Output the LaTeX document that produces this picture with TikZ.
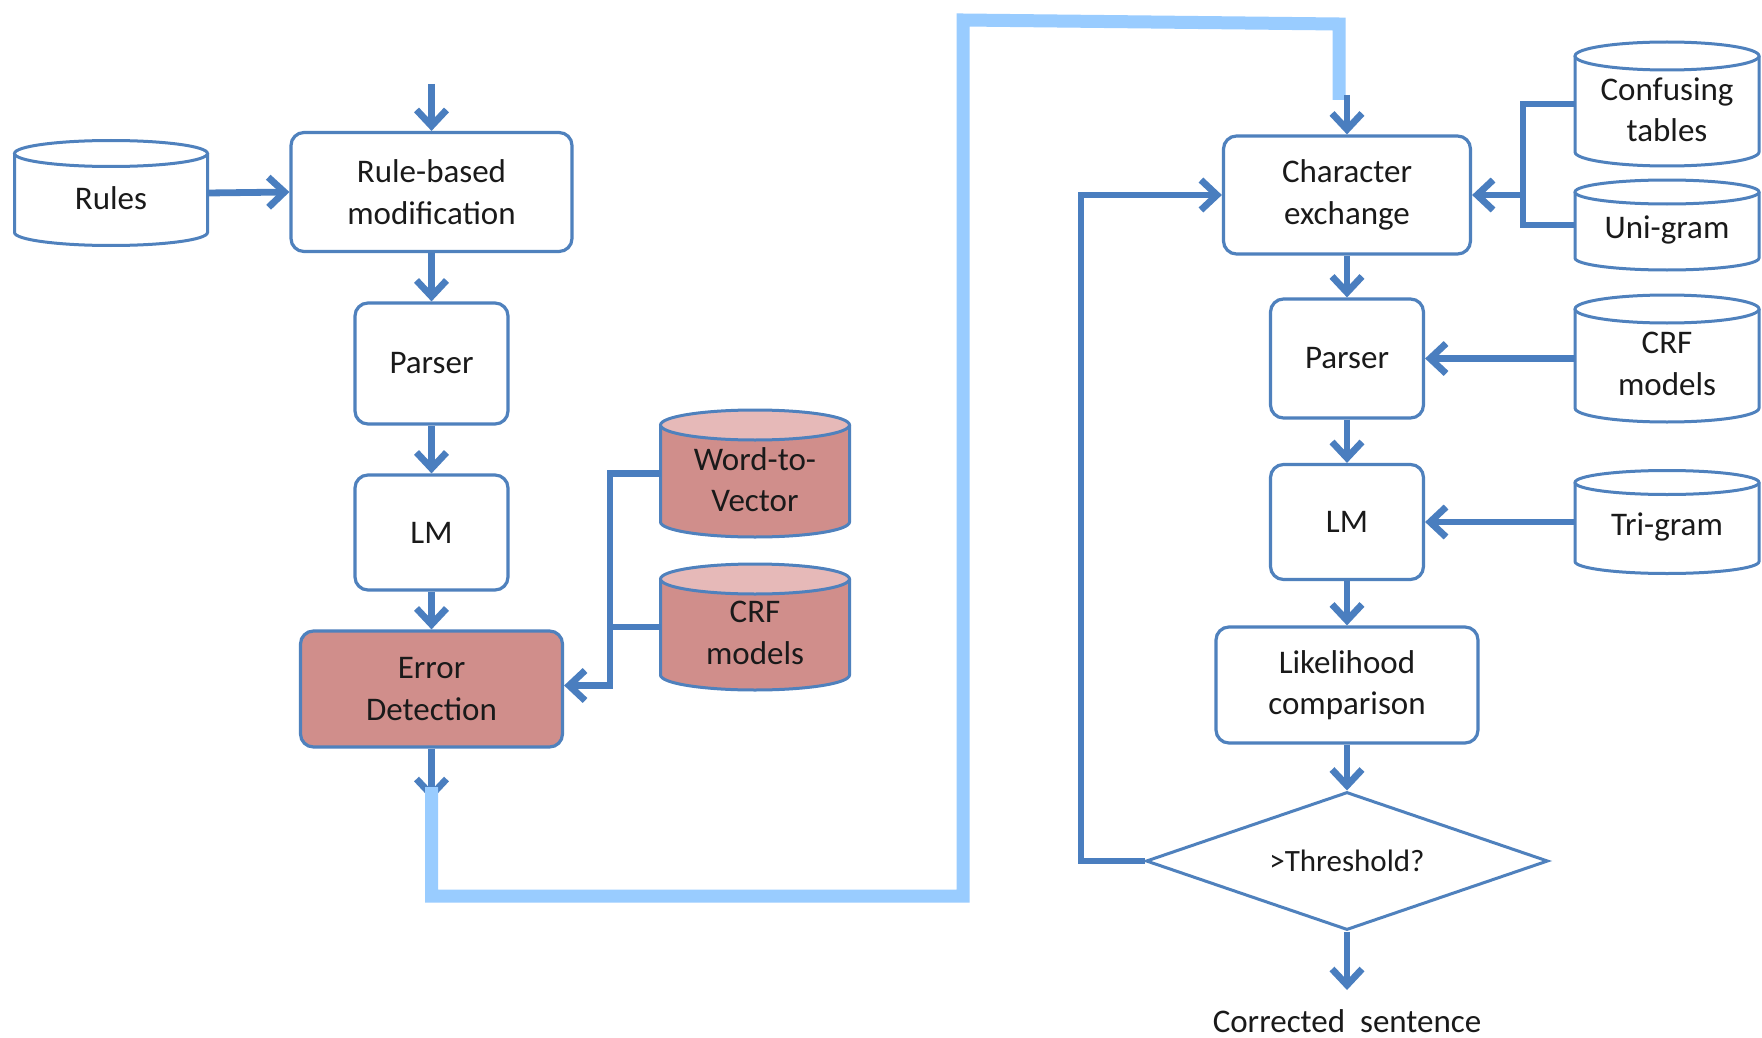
\documentclass[tikz,border=0pt]{standalone}
\usepackage{fontspec}
\setmainfont{Carlito}
\usetikzlibrary{arrows.meta,shapes.geometric}
\definecolor{bord}{HTML}{4F81BD}
\definecolor{arr}{HTML}{4A7EBF}
\definecolor{redbody}{HTML}{D08E8B}
\definecolor{redtop}{HTML}{E6B9B8}
\definecolor{whitebody}{HTML}{FFFFFF}
\definecolor{whitetop}{HTML}{FFFFFF}
\definecolor{lblue}{HTML}{99CCFF}
\definecolor{txt}{HTML}{1A1A1A}
\tikzset{
  lab/.style={align=center, font=\fontsize{16.5}{20.8}\selectfont, text=txt},
  proc/.style={lab, draw=bord, line width=1.6pt, rounded corners=6.5pt, fill=white, inner sep=0pt},
  redproc/.style={proc, fill=redbody},
  decide/.style={diamond, aspect=2.9, lab, font=\fontsize{15.5}{19}\selectfont, draw=bord, line width=1.5pt, fill=white, inner sep=0pt},
  dbn/.style={inner sep=0pt, outer sep=0pt},
  dbtext/.style={lab, inner sep=0pt},
  cylline/.style={draw=bord, line width=1.5pt},
  flow/.style={draw=arr, line width=3.4pt, -{Straight Barb[length=8pt,width=15pt]}},
  link/.style={draw=arr, line width=3.4pt},
  bigflow/.style={draw=lblue, line width=6.5pt, line join=miter},
}
\newcommand\dbnode[8]{%
  \pgfmathsetmacro\dbL{#2-#4/2}\pgfmathsetmacro\dbR{#2+#4/2}%
  \pgfmathsetmacro\dbT{#3-#5/2+#6}\pgfmathsetmacro\dbB{#3+#5/2-#6}%
  \pgfmathsetmacro\dbhw{#4/2}\pgfmathsetmacro\dbty{#3+#6*0.4}%
  \fill[#7body] (\dbL,\dbT) -- (\dbL,\dbB) arc[start angle=180,end angle=0,x radius=\dbhw,y radius=#6] -- (\dbR,\dbT) -- cycle;
  \draw[cylline] (\dbL,\dbT) -- (\dbL,\dbB) arc[start angle=180,end angle=0,x radius=\dbhw,y radius=#6] -- (\dbR,\dbT);
  \filldraw[cylline, fill=#7top] (#2,\dbT) ellipse[x radius=\dbhw, y radius=#6];
  \node[dbn, minimum width={#4*0.5pt}, minimum height={#5*0.5pt}] (#1) at (#2,#3) {};
  \node[dbtext] (#1-t) at (#2,\dbty) {#8};
}
\begin{document}
\begin{tikzpicture}[x=0.5pt, y=-0.5pt]
\path[use as bounding box, fill=white] (0,0) rectangle (1762,1038);

% ---- left column ----
\node[proc, minimum width=140.5pt, minimum height=59.5pt] (rbm) at (431.5,192) {Rule-based\\modification};
\node[proc, minimum width=76.5pt, minimum height=60.5pt] (parL) at (431.5,363.5) {Parser};
\node[proc, minimum width=76.5pt, minimum height=57.5pt] (lmL) at (431.5,532.5) {LM};
\node[redproc, minimum width=131pt, minimum height=58pt] (ed) at (431.5,689) {Error\\Detection};

\dbnode{rules}{111}{193}{193}{105}{13}{white}{Rules}
\dbnode{w2v}{755}{473.5}{189}{127}{15}{red}{Word-to-\\Vector}
\dbnode{crfL}{755}{627}{189}{126}{15}{red}{CRF\\models}

\coordinate (in0) at (431.5,84);
\coordinate (busL) at (610,685.5);
\coordinate (edout) at (431.5,800);

\draw[flow] (in0) -- (rbm.north);
\draw[flow] (rules.east) -- (rbm.west);
\draw[flow] (rbm.south) -- (parL.north);
\draw[flow] (parL.south) -- (lmL.north);
\draw[flow] (lmL.south) -- (ed.north);
\draw[flow] (w2v.west) -| (busL) -- (busL -| ed.east);
\draw[link] (crfL.west) -- (crfL.west -| busL);
\draw[flow] (ed.south) -- (edout);

% ---- right column ----
\node[proc, minimum width=123.5pt, minimum height=59pt] (char) at (1347,195) {Character\\exchange};
\node[proc, minimum width=76.5pt, minimum height=59.5pt] (parR) at (1347,358.5) {Parser};
\node[proc, minimum width=76.5pt, minimum height=57.5pt] (lmR) at (1347,522) {LM};
\node[proc, minimum width=131pt, minimum height=58pt] (lik) at (1347,685) {Likelihood\\comparison};
\node[decide, minimum width=201pt, minimum height=69pt] (thr) at (1347,861) {>Threshold?};
\node[lab, anchor=base] (cs) at (1347,1032) {Corrected\ \ sentence};

\dbnode{conf}{1667}{104}{184}{124}{14}{white}{Confusing\\tables}
\dbnode{uni}{1667}{225}{184}{90}{12}{white}{Uni-gram}
\dbnode{crfR}{1667}{358.5}{184}{127}{14}{white}{CRF\\models}
\dbnode{tri}{1667}{522}{184}{103}{12}{white}{Tri-gram}

\coordinate (busR) at (1523,195);
\coordinate (out) at (1347,990);
\coordinate (loopB) at (1081,861);

\draw[link] (conf.west) -| (busR |- uni.west) -- (uni.west);
\draw[flow] (busR) -- (char.east);
\draw[flow] (crfR.west) -- (parR.east);
\draw[flow] (tri.west) -- (lmR.east);
\draw[flow] (char.south) -- (parR.north);
\draw[flow] (parR.south) -- (lmR.north);
\draw[flow] (lmR.south) -- (lik.north);
\draw[flow] (lik.south) -- (thr.north);
\draw[flow] (thr.south) -- (out);
\draw[flow] (thr.west) -- (loopB) |- (char.west);

% ---- light blue hand-over ----
\coordinate (lb0) at (431.5,787);
\coordinate (lb1) at (963,896);
\coordinate (lb2) at (963,20);
\coordinate (lb3) at (1339,24);
\coordinate (lb4) at (1339,100);
\draw[bigflow] (lb0) |- (lb1) -- (lb2) -- (lb3) -- (lb4);

\coordinate (in1) at (1347,95);
\draw[flow] (in1) -- (char.north);
\end{tikzpicture}
\end{document}
